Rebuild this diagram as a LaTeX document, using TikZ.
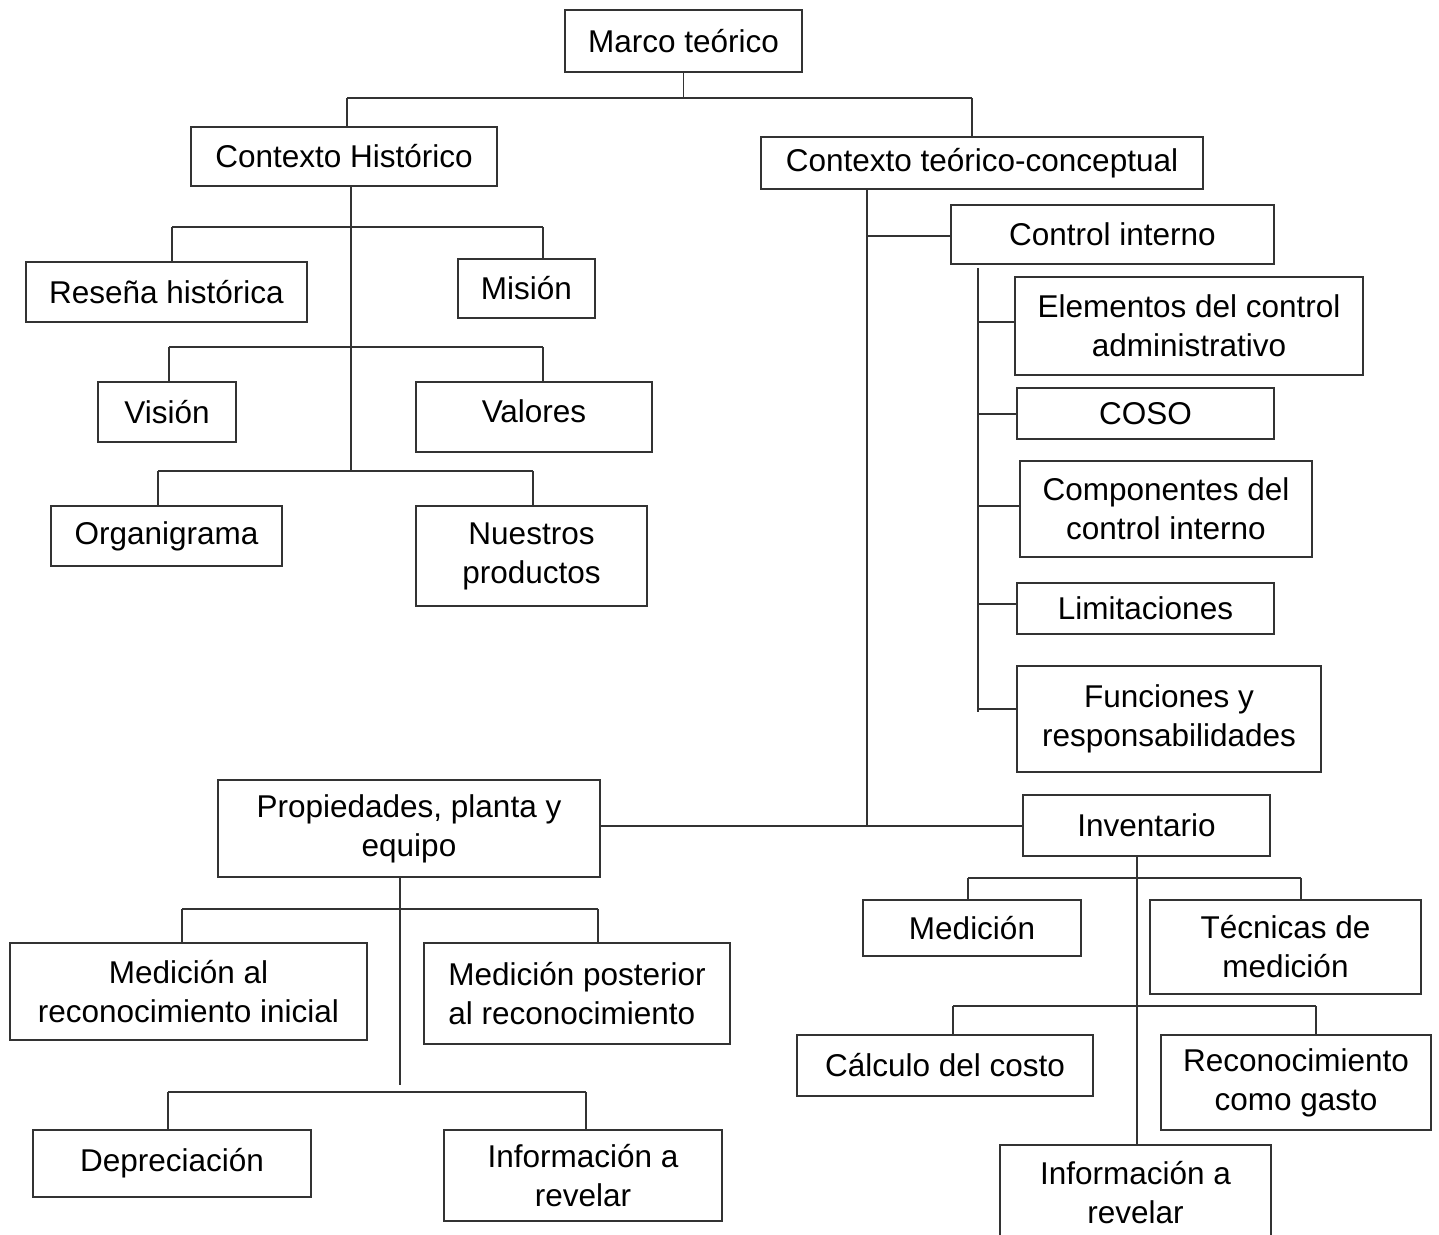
\documentclass[tikz,border=0pt]{standalone}
\usepackage{fontspec}
\setmainfont{Liberation Sans}
\begin{document}
\begin{tikzpicture}[x=1pt,y=-1pt,
  box/.style={draw=black!80, line width=1.4pt, rectangle, inner sep=0pt, align=center, font=\fontsize{31.5}{39}\selectfont},
  conn/.style={draw=black!80, line width=1.4pt}]
\clip (0,0) rectangle (1439,1234);
\fill[white] (0,0) rectangle (1439,1234);
% boxes
\node[box, minimum width=237pt, minimum height=62pt] (marco) at (683.5,41) {Marco teórico};
\node[box, minimum width=306pt, minimum height=59pt] (ch) at (344,156.5) {Contexto Histórico};
\node[box, minimum width=442pt, minimum height=52pt] (ctc) at (982,163) {Contexto teórico-conceptual};
\node[box, minimum width=281pt, minimum height=60pt] (resena) at (166.5,292) {Reseña histórica};
\node[box, minimum width=137pt, minimum height=59pt] (mision) at (526.5,288.5) {Misión};
\node[box, minimum width=138pt, minimum height=60pt] (vision) at (167,412) {Visión};
\node[box, minimum width=236pt, minimum height=70pt, text depth=12pt] (valores) at (534,417) {Valores};
\node[box, minimum width=231pt, minimum height=60pt] (organ) at (166.5,536) {Organigrama};
\node[box, minimum width=231pt, minimum height=100pt] (nuestros) at (531.5,556) {Nuestros\\productos};
\node[box, minimum width=323pt, minimum height=59pt] (ci) at (1112.5,234.5) {Control interno};
\node[box, minimum width=348pt, minimum height=98pt] (elem) at (1189,326) {Elementos del control\\administrativo};
\node[box, minimum width=257pt, minimum height=51pt] (coso) at (1145.5,413.5) {COSO};
\node[box, minimum width=292pt, minimum height=96pt] (comp) at (1166,509) {Componentes del\\control interno};
\node[box, minimum width=257pt, minimum height=51pt] (limit) at (1145.5,608.5) {Limitaciones};
\node[box, minimum width=304pt, minimum height=106pt] (func) at (1169,719) {Funciones y\\responsabilidades};
\node[box, minimum width=382pt, minimum height=97pt] (ppe) at (409,828.5) {Propiedades, planta y\\equipo};
\node[box, minimum width=247pt, minimum height=61pt] (inv) at (1146.5,825.5) {Inventario};
\node[box, minimum width=357pt, minimum height=97pt] (medal) at (188.5,991.5) {Medición al\\reconocimiento inicial};
\node[box, minimum width=306pt, minimum height=101pt, align=left] (medpost) at (577,993.5) {Medición posterior\\al reconocimiento};
\node[box, minimum width=278pt, minimum height=67pt] (depr) at (172,1163.5) {Depreciación};
\node[box, minimum width=278pt, minimum height=91pt] (infoL) at (583,1175.5) {Información a\\revelar};
\node[box, minimum width=218pt, minimum height=56pt] (medicion) at (972,928) {Medición};
\node[box, minimum width=271pt, minimum height=94pt] (tecnicas) at (1285.5,947) {Técnicas de\\medición};
\node[box, minimum width=296pt, minimum height=61pt] (calculo) at (945,1065.5) {Cálculo del costo};
\node[box, minimum width=270pt, minimum height=95pt] (recon) at (1296,1082.5) {Reconocimiento\\como gasto};
\node[box, minimum width=271pt, minimum height=96pt] (infoR) at (1135.5,1193) {Información a\\revelar};
% top level
\coordinate (b0l) at (347,98);
\coordinate (b0r) at (972,98);
\draw[conn] (marco) -- (marco |- b0l);
\draw[conn] (b0l) -- (b0r);
\draw[conn] (b0l) -- (b0l |- ch.north);
\draw[conn] (b0r) -- (b0r |- ctc.north);
% Contexto Historico
\coordinate (chend) at (351,471);
\draw[conn] (ch.south -| chend) -- (chend);
\coordinate (b1l) at (172,227); \coordinate (b1r) at (543,227);
\draw[conn] (b1l) -- (b1r);
\draw[conn] (b1l) -- (b1l |- resena.north);
\draw[conn] (b1r) -- (b1r |- mision.north);
\coordinate (b2l) at (169,347); \coordinate (b2r) at (543,347);
\draw[conn] (b2l) -- (b2r);
\draw[conn] (b2l) -- (b2l |- vision.north);
\draw[conn] (b2r) -- (b2r |- valores.north);
\coordinate (b3l) at (158,471); \coordinate (b3r) at (533,471);
\draw[conn] (b3l) -- (b3r);
\draw[conn] (b3l) -- (b3l |- organ.north);
\draw[conn] (b3r) -- (b3r |- nuestros.north);
% Contexto teorico-conceptual
\coordinate (ctcend) at (867,826);
\draw[conn] (ctc.south -| ctcend) -- (ctcend);
\coordinate (cij) at (867,236);
\draw[conn] (cij) -- (cij -| ci.west);
\coordinate (cit1) at (978,268); \coordinate (cit2) at (978,712);
\draw[conn] (cit1) -- (cit2);
\coordinate (t1) at (978,322); \draw[conn] (t1) -- (t1 -| elem.west);
\coordinate (t2) at (978,414); \draw[conn] (t2) -- (t2 -| coso.west);
\coordinate (t3) at (978,506); \draw[conn] (t3) -- (t3 -| comp.west);
\coordinate (t4) at (978,604); \draw[conn] (t4) -- (t4 -| limit.west);
\coordinate (t5) at (978,709); \draw[conn] (t5) -- (t5 -| func.west);
\draw[conn] (ctcend -| ppe.east) -- (ctcend -| inv.west);
% Propiedades
\coordinate (ppeend) at (400,1085);
\draw[conn] (ppe.south -| ppeend) -- (ppeend);
\coordinate (b4l) at (182,909); \coordinate (b4r) at (598,909);
\draw[conn] (b4l) -- (b4r);
\draw[conn] (b4l) -- (b4l |- medal.north);
\draw[conn] (b4r) -- (b4r |- medpost.north);
\coordinate (b5l) at (168,1092); \coordinate (b5r) at (586,1092);
\draw[conn] (b5l) -- (b5r);
\draw[conn] (b5l) -- (b5l |- depr.north);
\draw[conn] (b5r) -- (b5r |- infoL.north);
% Inventario
\coordinate (invx) at (1137,870);
\draw[conn] (inv.south -| invx) -- (infoR.north -| invx);
\coordinate (b6l) at (968,878); \coordinate (b6r) at (1301,878);
\draw[conn] (b6l) -- (b6r);
\draw[conn] (b6l) -- (b6l |- medicion.north);
\draw[conn] (b6r) -- (b6r |- tecnicas.north);
\coordinate (b7l) at (953,1006); \coordinate (b7r) at (1316,1006);
\draw[conn] (b7l) -- (b7r);
\draw[conn] (b7l) -- (b7l |- calculo.north);
\draw[conn] (b7r) -- (b7r |- recon.north);
\end{tikzpicture}
\end{document}
